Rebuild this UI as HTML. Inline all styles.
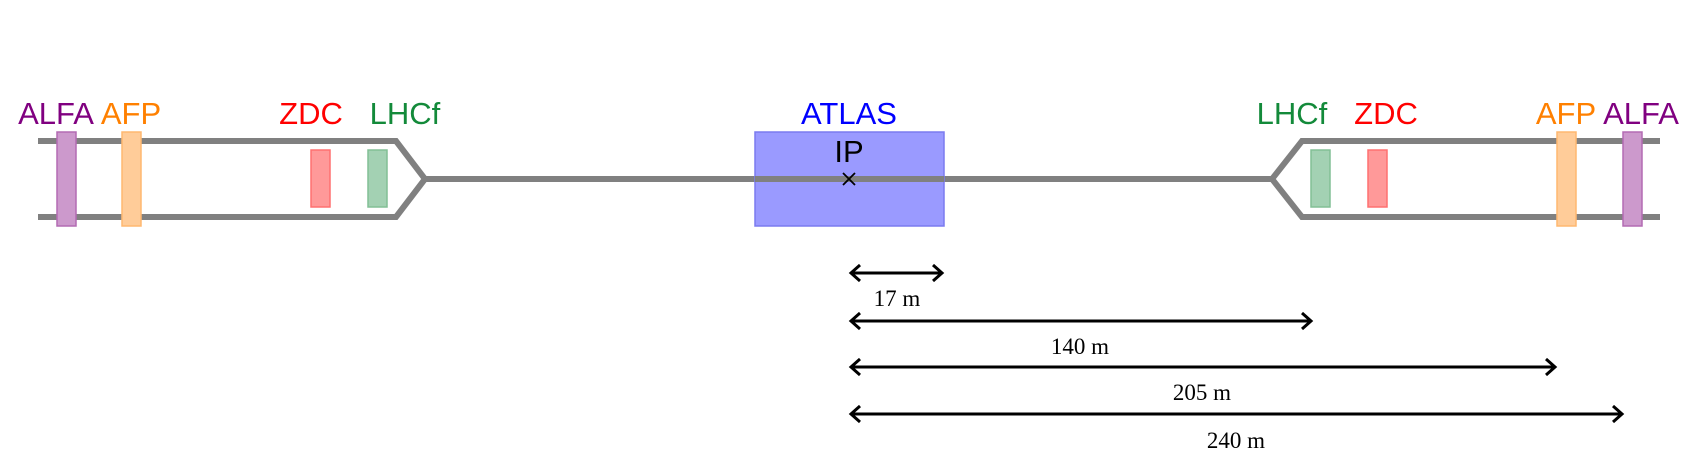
<!DOCTYPE html>
<html><head><style>body{margin:0;background:#fff}svg{display:block}</style></head><body>
<svg width="1704" height="474" viewBox="0 0 1704 474" xmlns="http://www.w3.org/2000/svg">
<g stroke="#808080" stroke-width="6" fill="none">
<path d="M38 141 H396 L425 179 L396 217 H38"/>
<path d="M425 179 H1272"/>
<path d="M1660 141 H1302 L1272 179 L1302 217 H1660"/>
</g>
<rect x="755" y="132" width="189" height="94" fill="#9a9aff" stroke="#7b7bef" stroke-width="1.5"/>
<path d="M755 179 H944" stroke="#808080" stroke-width="6"/>
<g stroke-width="1.5">
<rect x="57" y="132" width="19" height="94" fill="#cc99cc" stroke="#b36bb3"/>
<rect x="122" y="132" width="19" height="94" fill="#ffcc99" stroke="#ffb870"/>
<rect x="311" y="150" width="19" height="57" fill="#ff9999" stroke="#ff7070"/>
<rect x="368" y="150" width="19" height="57" fill="#a3d1b3" stroke="#82bf95"/>
<rect x="1311" y="150" width="19" height="57" fill="#a3d1b3" stroke="#82bf95"/>
<rect x="1368" y="150" width="19" height="57" fill="#ff9999" stroke="#ff7070"/>
<rect x="1557" y="132" width="19" height="94" fill="#ffcc99" stroke="#ffb870"/>
<rect x="1623" y="132" width="19" height="94" fill="#cc99cc" stroke="#b36bb3"/>
</g>
<g font-family="Liberation Sans, sans-serif" font-size="31" text-anchor="middle">
<text x="56" y="124" fill="#800080">ALFA</text>
<text x="131" y="124" fill="#ff8000">AFP</text>
<text x="311" y="124" fill="#ff0000">ZDC</text>
<text x="405" y="124" fill="#138a3a">LHCf</text>
<text x="849" y="124" fill="#0000ff">ATLAS</text>
<text x="849" y="162" fill="#000">IP</text>
<text x="1292" y="124" fill="#138a3a">LHCf</text>
<text x="1386" y="124" fill="#ff0000">ZDC</text>
<text x="1566" y="124" fill="#ff8000">AFP</text>
<text x="1641" y="124" fill="#800080">ALFA</text>
</g>
<path d="M843 173 L855 185 M855 173 L843 185" stroke="#000" stroke-width="1.8"/>
<g stroke="#000" stroke-width="3" fill="none">
<path d="M851 273 H942 M860 265 L851 273 L860 281 M933 265 L942 273 L933 281"/>
<path d="M851 321 H1311 M860 313 L851 321 L860 329 M1302 313 L1311 321 L1302 329"/>
<path d="M851 367 H1555 M860 359 L851 367 L860 375 M1546 359 L1555 367 L1546 375"/>
<path d="M851 414 H1622 M860 406 L851 414 L860 422 M1613 406 L1622 414 L1613 422"/>
</g>
<g font-family="Liberation Serif, serif" font-size="23" text-anchor="middle" fill="#000">
<text x="897" y="306">17 m</text>
<text x="1080" y="354">140 m</text>
<text x="1202" y="400">205 m</text>
<text x="1236" y="448">240 m</text>
</g>
</svg>
</body></html>
